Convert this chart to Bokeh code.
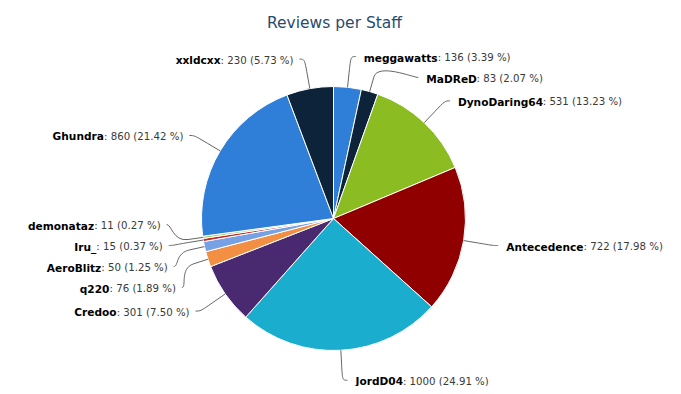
import numpy as np
from bokeh.plotting import figure
from bokeh.models import Range1d
from bokeh.core.properties import value
from bokeh.embed import file_html
from bokeh.resources import INLINE

# ---------------- data ----------------
title_text = ["Reviews per Staff"]
names = ["meggawatts", "MaDReD", "DynoDaring64", "Antecedence", "JordD04", "Credoo",
         "q220", "AeroBlitz", "Iru_", "demonataz", "Ghundra", "xxldcxx"]
reviews = [136, 83, 531, 722, 1000, 301, 76, 50, 15, 11, 860, 230]
colors = ["#2f7ed8", "#0d233a", "#8bbc21", "#910000", "#1aadce", "#492970",
          "#f28f43", "#77a1e5", "#c42525", "#a6c96a", "#2f7ed8", "#0d233a"]

# ---------------- layout ----------------
W, H = 673, 386
CX, CY, R = 333.0, 218.0, 132.0      # page pixel coordinates
DIST = 30.0
SLOT_H = 21.0
CONN_OFF = 15.0
NAME_PX = 10.6
REST_PX = 10.2
FONT = "DejaVu Sans"

# DejaVu Sans advance widths (units per em 2048)
REG = {' ': 651, ':': 690, '.': 651, '(': 799, ')': 799, '%': 1946}
for d in "0123456789":
    REG[d] = 1303
BOLD = {' ': 713, ':': 819, '.': 780, '(': 936, ')': 936, '%': 2050, '_': 1024,
        'A': 1585, 'B': 1561, 'C': 1470, 'D': 1659, 'E': 1399, 'F': 1399, 'G': 1683,
        'H': 1712, 'I': 764, 'J': 764, 'K': 1589, 'L': 1376, 'M': 2039, 'N': 1712,
        'O': 1741, 'P': 1503, 'Q': 1741, 'R': 1577, 'S': 1478, 'T': 1405, 'U': 1663,
        'V': 1585, 'W': 2259, 'X': 1579, 'Y': 1483, 'Z': 1485,
        'a': 1382, 'b': 1466, 'c': 1214, 'd': 1466, 'e': 1389, 'f': 891, 'g': 1466,
        'h': 1458, 'i': 702, 'j': 702, 'k': 1362, 'l': 702, 'm': 2134, 'n': 1458,
        'o': 1407, 'p': 1466, 'q': 1466, 'r': 1010, 's': 1219, 't': 979, 'u': 1458,
        'v': 1335, 'w': 1892, 'x': 1321, 'y': 1335, 'z': 1208}
for d in "0123456789":
    BOLD[d] = 1425


def text_w(s, table, px):
    return sum(table.get(c, 1300) for c in s) / 2048.0 * px


vals = np.array(reviews, dtype=float)
total = vals.sum()
frac = vals / total
cum = np.concatenate([[0.0], np.cumsum(frac)])
a0 = -np.pi / 2 + 2 * np.pi * cum[:-1]     # screen angles, clockwise, y down
a1 = -np.pi / 2 + 2 * np.pi * cum[1:]
mid = (a0 + a1) / 2
n = len(vals)

rest = [": %d (%.2f %%)" % (v, f * 100) for v, f in zip(reviews, frac)]

half = [1 if (m < -np.pi / 2 or m > np.pi / 2) else 0 for m in mid]
nat_y = CY + (R + DIST) * np.sin(mid)
b2x = CX + (R + CONN_OFF) * np.cos(mid)
b2y = CY + (R + CONN_OFF) * np.sin(mid)
bx = CX + R * np.cos(mid)
by = CY + R * np.sin(mid)


def get_x(y, left):
    s = np.clip((y - CY) / (R + DIST), -1, 1)
    return CX + (-1 if left else 1) * np.cos(np.arcsin(s)) * (R + DIST)


lab_x = np.zeros(n)
lab_y = np.zeros(n)
for h in (0, 1):
    idx = [i for i in range(n) if half[i] == h]
    if h == 1:
        idx = idx[::-1]
    slots = []
    pos = CY - R - DIST
    while pos <= CY + R + DIST:
        slots.append(pos)
        pos += SLOT_H
    L = len(slots)
    m = len(idx)
    used = []
    for j, i in enumerate(idx):
        closest, si = 1e9, 0
        for k in range(L):
            sv = slots[k] if slots[k] is not None else 0.0
            d = abs(sv - nat_y[i])
            if d < closest:
                closest, si = d, k
        if si < j and slots[j] is not None:
            si = j
        elif L < m - j + si and slots[j] is not None:
            si = L - m + j
            while slots[si] is None:
                si += 1
        else:
            while slots[si] is None:
                si += 1
        used.append((si, slots[si]))
        slots[si] = None
    used.sort(key=lambda t: t[1])
    for j, i in enumerate(idx):
        si, sy = used[j]
        y = sy
        nxt = slots[si + 1] if si + 1 < L else "free"
        prv = slots[si - 1] if si - 1 >= 0 else "free"
        if (nat_y[i] > y and nxt is not None) or (nat_y[i] < y and prv is not None):
            y = nat_y[i]
        x = get_x(nat_y[i] if (si == 0 or si == L - 1) else y, h == 1)
        lab_x[i] = x
        lab_y[i] = y

# ---------------- figure ----------------
p = figure(width=W, height=H, output_backend="svg", toolbar_location=None,
           x_range=Range1d(0, W), y_range=Range1d(-H, 0),
           x_axis_type=None, y_axis_type=None, min_border=0)
p.grid.visible = False
p.outline_line_color = None
p.background_fill_color = "white"
p.border_fill_color = "white"

p.wedge(x=CX, y=-CY, radius=R, radius_units="screen",
        start_angle=-a0, end_angle=-a1, direction="clock",
        fill_color=colors, line_color="white", line_width=1)

# connectors
sgn = np.array([-1.0 if h else 1.0 for h in half])
p.bezier(x0=lab_x + 5 * sgn, y0=-lab_y, x1=b2x, y1=-b2y,
         cx0=lab_x, cy0=-lab_y, cx1=2 * b2x - bx, cy1=-(2 * b2y - by),
         line_color="#666666", line_width=1)
p.segment(x0=b2x, y0=-b2y, x1=bx, y1=-by, line_color="#666666", line_width=1)

# labels
name_x, rest_x, name_al, rest_al = [], [], [], []
for i in range(n):
    if half[i] == 0:
        xs = lab_x[i] + 13
        name_x.append(xs)
        rest_x.append(xs + text_w(names[i], BOLD, NAME_PX))
        name_al.append("left")
        rest_al.append("left")
    else:
        xe = lab_x[i] - 11
        rest_x.append(xe)
        name_x.append(xe - text_w(rest[i], REG, REST_PX))
        name_al.append("right")
        rest_al.append("right")
ty = -(lab_y + 1)
p.text(x=name_x, y=ty, text=names, text_align=name_al, text_baseline="middle",
       text_font=value(FONT), text_font_style="bold", text_font_size="%.1fpx" % NAME_PX,
       text_color="#000000")
p.text(x=rest_x, y=ty, text=rest, text_align=rest_al, text_baseline="middle",
       text_font=value(FONT), text_font_size="%.1fpx" % REST_PX, text_color="#3a3a3a")

# title
p.text(x=[334], y=[-22], text=title_text, text_align="center", text_baseline="middle",
       text_font=value(FONT), text_font_size="15.5px", text_color="#274b6d")

open("out.html", "w").write(file_html(p, INLINE))
